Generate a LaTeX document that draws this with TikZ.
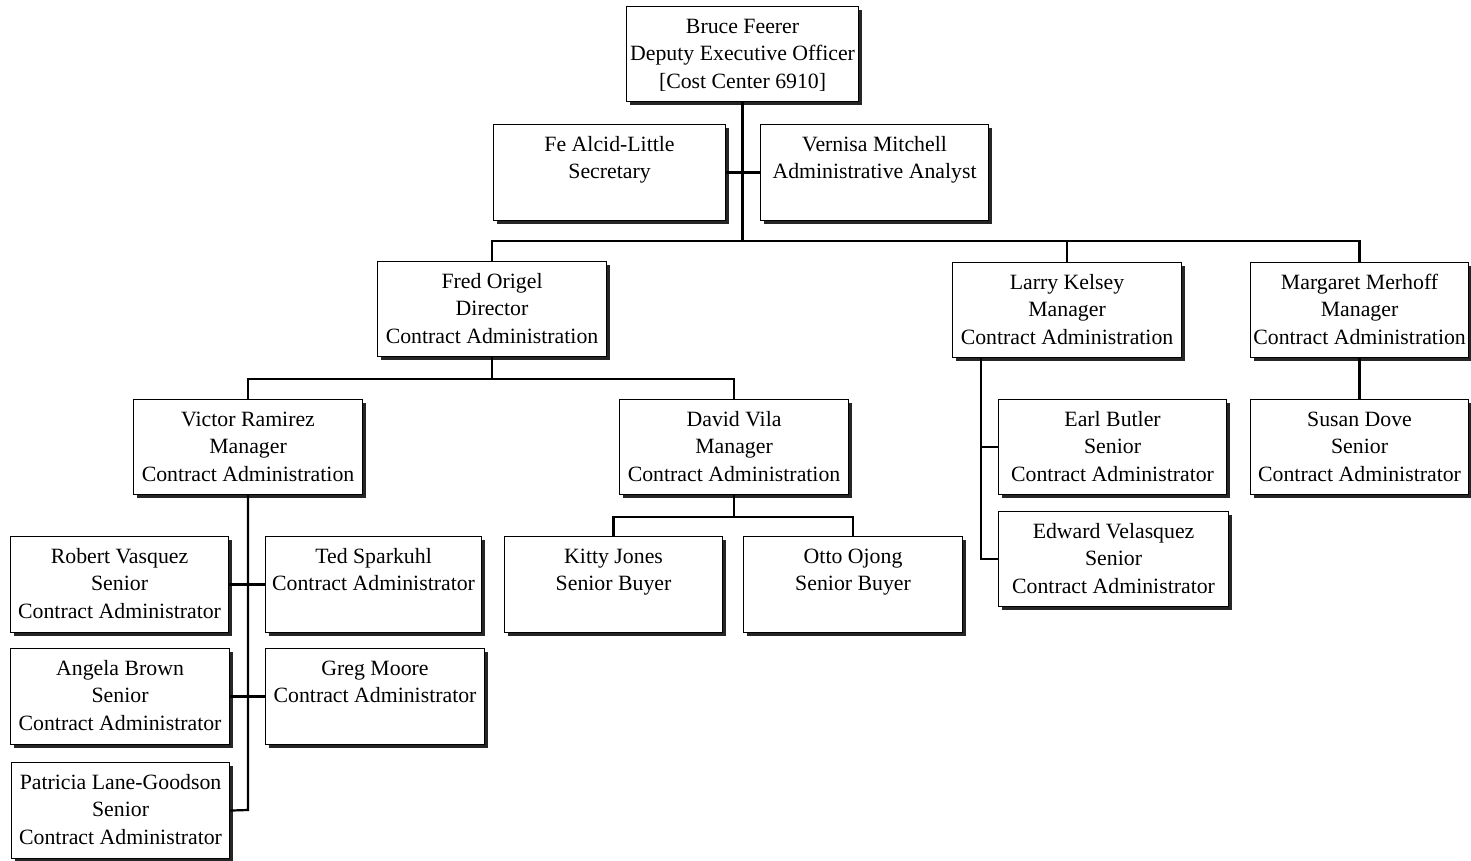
\documentclass[tikz,border=0pt]{standalone}
\usepackage{fontspec}
\setmainfont{Liberation Serif}
\usetikzlibrary{shadows,calc}
\tikzset{
  orgframe/.style={draw=black, line width=1.1pt, fill=white, inner sep=0pt,
    drop shadow={shadow xshift=3pt, shadow yshift=-3pt, fill=black!85, opacity=1}},
  orgtext/.style={align=center, inner sep=0pt, anchor=north,
    font=\fontsize{21.8}{27.5}\selectfont},
  conn/.style={draw=black, line width=2.2pt},
}
% #1 name, #2 x1, #3 y1, #4 x2, #5 y2, #6 text
\newcommand\orgbox[6]{%
  \node[orgframe, minimum width={(#4-#2)*1pt}, minimum height={(#5-#3)*1pt}, anchor=north west]
    (#1) at (#2,#3) {};
  \node[orgtext] (#1-t) at ($(#1.north)+(0,8)$) {\strut #6};
}
\begin{document}
\begin{tikzpicture}[x=1pt,y=-1pt]
\useasboundingbox (0,0) rectangle (1471,861);
\fill[white] (0,0) rectangle (1471,861);

\orgbox{bruce}{626}{6}{858}{101}{Bruce Feerer\\Deputy Executive Officer\\{[}Cost Center 6910{]}}
\orgbox{fe}{493}{124}{725}{220}{Fe Alcid-Little\\Secretary}
\orgbox{vern}{760}{124}{988}{220}{Vernisa Mitchell\\Administrative Analyst}
\orgbox{fred}{377}{261}{606}{356}{Fred Origel\\Director\\Contract Administration}
\orgbox{larry}{952}{262}{1181}{357}{Larry Kelsey\\Manager\\Contract Administration}
\orgbox{marg}{1250}{262}{1468}{357}{Margaret Merhoff\\Manager\\Contract Administration}
\orgbox{victor}{133}{399}{362}{494}{Victor Ramirez\\Manager\\Contract Administration}
\orgbox{david}{619}{399}{848}{494}{David Vila\\Manager\\Contract Administration}
\orgbox{earl}{998}{399}{1226}{494}{Earl Butler\\Senior\\Contract Administrator}
\orgbox{susan}{1250}{399}{1468}{494}{Susan Dove\\Senior\\Contract Administrator}
\orgbox{edward}{998}{511}{1228}{606}{Edward Velasquez\\Senior\\Contract Administrator}
\orgbox{robert}{10}{536}{228}{632}{Robert Vasquez\\Senior\\Contract Administrator}
\orgbox{ted}{265}{536}{481}{632}{Ted Sparkuhl\\Contract Administrator}
\orgbox{kitty}{504}{536}{722}{632}{Kitty Jones\\Senior Buyer}
\orgbox{otto}{743}{536}{962}{632}{Otto Ojong\\Senior Buyer}
\orgbox{angela}{10}{648}{229}{744}{Angela Brown\\Senior\\Contract Administrator}
\orgbox{greg}{265}{648}{484}{744}{Greg Moore\\Contract Administrator}
\orgbox{patricia}{11}{762}{229}{858}{Patricia Lane-Goodson\\Senior\\Contract Administrator}

% connectors
\coordinate (y1) at (0,241);
\coordinate (b1) at (bruce.south |- y1);
\draw[conn] (bruce.south) -- (b1);
\draw[conn] (fe.east) -- (vern.west);
\draw[conn] (fred.north) |- (b1) -| (marg.north);
\draw[conn] (larry.north) -- (larry.north |- b1);

\coordinate (y2) at (0,379);
\coordinate (b2) at (fred.south |- y2);
\draw[conn] (fred.south) -- (b2);
\draw[conn] (victor.north) |- (b2) -| (david.north);

\coordinate (y3) at (0,810);
\coordinate (v3) at (victor.south |- y3);
\draw[conn] (victor.south) -- (v3) -- (patricia.east);
\draw[conn] (robert.east) -- (ted.west);
\draw[conn] (angela.east) -- (greg.west);

\coordinate (y4) at (0,517);
\coordinate (b4) at (david.south |- y4);
\draw[conn] (david.south) -- (b4);
\draw[conn] (kitty.north) |- (b4) -| (otto.north);

\coordinate (lx) at (981,0);
\draw[conn] (larry.south -| lx) |- (edward.west);
\draw[conn] (earl.west) -- (earl.west -| lx);

\draw[conn] (marg.south) -- (susan.north);
\end{tikzpicture}
\end{document}
